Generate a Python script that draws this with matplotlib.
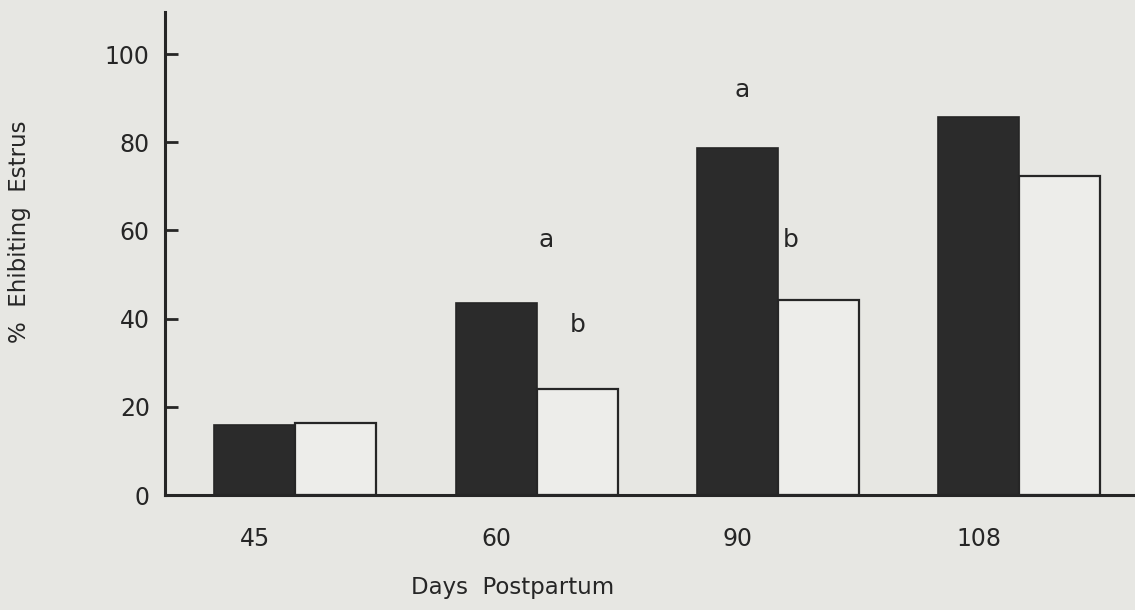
import matplotlib.pyplot as plt
import numpy as np

# datos
dias = ['45', '60', '90', '108']
grupo_oscuro = [15.9, 43.6, 78.7, 85.8]
grupo_claro = [16.3, 24.0, 44.2, 72.3]

# letras de significancia (posicion respecto al grupo, altura)
letras_grupo = [1, 1, 2, 2]
letras_dx = [0.04, 0.17, -0.15, 0.055]
letras_texto = ['a', 'b', 'a', 'b']
letras_y = [57.8, 38.5, 91.8, 57.8]

fondo = '#e7e7e3'
tinta = '#262626'

fig = plt.figure(figsize=(11.35, 6.10), dpi=100, facecolor=fondo)
ax = fig.add_axes([0.1454, 0.1885, 0.8546, 0.7915])
ax.set_facecolor(fondo)

x = np.arange(len(dias))
ancho = 0.336

ax.bar(x - ancho, grupo_oscuro, width=ancho, align='edge',
       color='#2b2b2b', edgecolor=tinta, linewidth=1.2)
ax.bar(x, grupo_claro, width=ancho, align='edge',
       color='#ededea', edgecolor=tinta, linewidth=1.6)

# letras sobre las barras
for g, dx, t, yy in zip(letras_grupo, letras_dx, letras_texto, letras_y):
    ax.text(g + dx, yy, t, ha='center', va='center',
            fontsize=18, color=tinta)

ax.set_xlim(-0.54, 3.48)
ax.set_ylim(0, 109.5)

ax.set_yticks([0, 20, 40, 60, 80, 100])
ax.set_xticks(x - ancho / 2)
ax.set_xticklabels(dias)

ax.tick_params(axis='y', direction='in', length=9, width=2, pad=11,
               labelsize=17, colors=tinta)
ax.tick_params(axis='x', length=0, pad=23, labelsize=17, colors=tinta)

for lado in ['top', 'right']:
    ax.spines[lado].set_visible(False)
for lado in ['left', 'bottom']:
    ax.spines[lado].set_linewidth(2.2)
    ax.spines[lado].set_color(tinta)

fig.text(0.452, 0.018, 'Days  Postpartum', ha='center', va='bottom',
         fontsize=16.5, color=tinta)
fig.text(0.017, 0.62, '%  Ehibiting  Estrus', ha='center', va='center',
         rotation=90, fontsize=16.5, color=tinta)

plt.savefig('out.png', dpi=100, facecolor=fondo)
